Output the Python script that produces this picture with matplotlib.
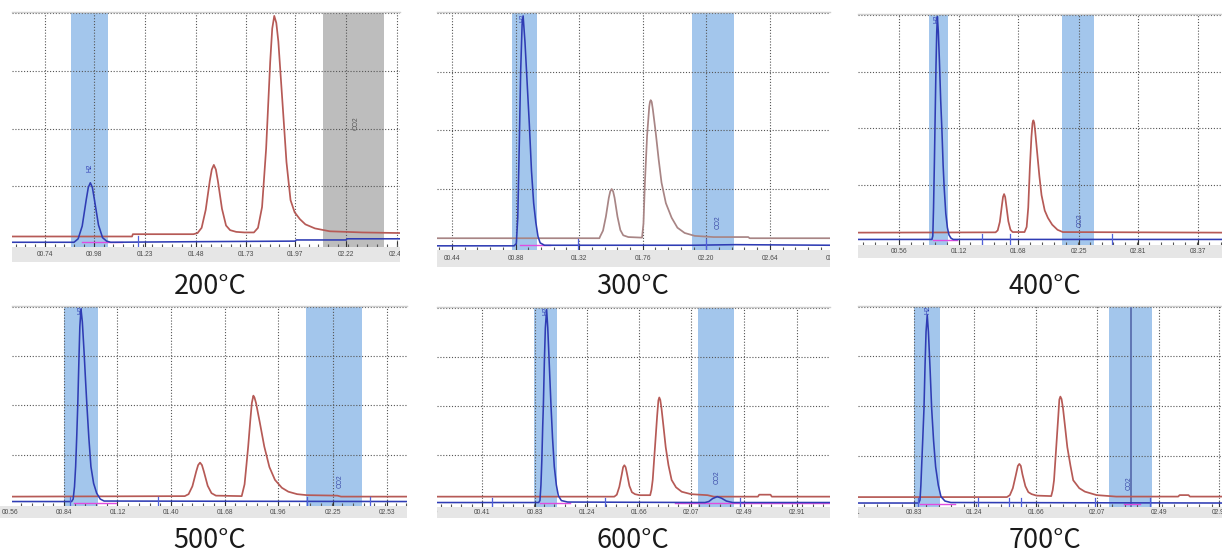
import matplotlib
matplotlib.use("Agg")
import matplotlib.pyplot as plt
from matplotlib.ticker import FixedLocator, AutoMinorLocator

W, H = 1222, 553

# ---------------- data ----------------
titles = ["200°C", "300°C", "400°C", "500°C", "600°C", "700°C"]

tick_vals = [
    [0.74, 0.98, 1.23, 1.48, 1.73, 1.97, 2.22, 2.47],
    [0.44, 0.88, 1.32, 1.76, 2.20, 2.64, 3.08],
    [0.56, 1.12, 1.68, 2.25, 2.81, 3.37],
    [0.56, 0.84, 1.12, 1.40, 1.68, 1.96, 2.25, 2.53],
    [0.00, 0.41, 0.83, 1.24, 1.66, 2.07, 2.49, 2.91],
    [0.41, 0.83, 1.24, 1.66, 2.07, 2.49, 2.90],
]
tick_labels = [
    ["00.74", "00.98", "01.23", "01.48", "01.73", "01.97", "02.22", "02.47"],
    ["00.44", "00.88", "01.32", "01.76", "02.20", "02.64", "03.08"],
    ["00.56", "01.12", "01.68", "02.25", "02.81", "03.37"],
    ["00.56", "00.84", "01.12", "01.40", "01.68", "01.96", "02.25", "02.53"],
    ["00.00", "00.41", "00.83", "01.24", "01.66", "02.07", "02.49", "02.91"],
    ["00.41", "00.83", "01.24", "01.66", "02.07", "02.49", "02.90"],
]
x_ranges = [(0.578, 2.485), (0.336, 3.056), (0.175, 3.596),
            (0.568, 2.635), (0.053, 3.172), (0.451, 2.917)]

# red (TCD) traces: (minutes, signal)
red_200 = [(0.578, 0.13), (1.168, 0.13), (1.172, 0.17), (1.47, 0.17), (1.49, 0.19),
           (1.51, 0.28), (1.53, 0.59), (1.55, 1.09), (1.56, 1.29), (1.57, 1.37),
           (1.58, 1.29), (1.59, 1.09),
           (1.61, 0.61), (1.63, 0.32), (1.65, 0.24), (1.68, 0.21), (1.72, 0.20),
           (1.767, 0.20), (1.787, 0.28), (1.807, 0.64), (1.827, 1.65), (1.847, 3.15),
           (1.857, 3.73), (1.867, 3.95), (1.877, 3.83), (1.887, 3.51), (1.907, 2.47),
           (1.927, 1.42), (1.947, 0.76),
           (1.967, 0.55), (1.993, 0.43), (2.02, 0.34), (2.067, 0.27), (2.14, 0.22),
           (2.30, 0.20), (2.485, 0.19)]
red_300 = [(0.336, 0.15), (1.46, 0.15), (1.465, 0.18), (1.485, 0.28), (1.505, 0.52),
           (1.525, 0.84), (1.535, 0.95), (1.545, 0.99), (1.555, 0.95), (1.565, 0.84),
           (1.585, 0.52), (1.605, 0.29),
           (1.625, 0.20), (1.66, 0.17), (1.755, 0.16), (1.765, 0.40), (1.775, 1.10),
           (1.79, 1.90), (1.805, 2.40), (1.81, 2.48), (1.815, 2.51), (1.822, 2.48),
           (1.83, 2.35), (1.85, 1.95),
           (1.87, 1.50), (1.89, 1.10), (1.92, 0.75), (1.96, 0.50), (2.00, 0.33),
           (2.05, 0.24), (2.12, 0.19), (2.25, 0.17), (2.49, 0.17), (2.50, 0.15),
           (3.056, 0.15)]
red_400 = [(0.175, 0.16), (1.468, 0.165), (1.488, 0.20), (1.508, 0.35), (1.528, 0.65),
           (1.538, 0.79), (1.548, 0.84), (1.558, 0.79), (1.568, 0.65), (1.588, 0.36),
           (1.608, 0.21), (1.628, 0.17),
           (1.70, 0.17), (1.74, 0.17), (1.76, 0.26), (1.775, 0.60), (1.79, 1.30),
           (1.805, 1.85), (1.815, 2.09), (1.823, 2.14), (1.831, 2.10), (1.84, 1.95),
           (1.86, 1.55), (1.88, 1.15),
           (1.90, 0.82), (1.93, 0.55), (1.96, 0.42), (2.00, 0.30), (2.05, 0.21),
           (2.10, 0.17), (3.596, 0.16)]
red_500 = [(0.568, 0.15), (1.472, 0.16), (1.492, 0.20), (1.512, 0.36), (1.532, 0.66),
           (1.542, 0.79), (1.552, 0.84), (1.562, 0.79), (1.572, 0.66), (1.592, 0.37),
           (1.612, 0.22), (1.635, 0.17),
           (1.77, 0.16), (1.785, 0.40), (1.795, 0.80), (1.804, 1.17), (1.815, 1.70),
           (1.823, 2.05), (1.831, 2.20), (1.837, 2.16), (1.845, 2.05), (1.865, 1.65),
           (1.888, 1.17),
           (1.915, 0.75), (1.944, 0.49), (1.98, 0.33), (2.014, 0.25), (2.06, 0.20),
           (2.11, 0.18), (2.27, 0.17), (2.29, 0.15), (2.635, 0.15)]
red_600 = [(0.053, 0.16), (1.46, 0.16), (1.48, 0.20), (1.50, 0.36), (1.52, 0.62),
           (1.53, 0.76), (1.54, 0.80), (1.55, 0.76), (1.56, 0.64), (1.58, 0.38),
           (1.60, 0.25), (1.625, 0.21),
           (1.66, 0.19), (1.745, 0.19), (1.755, 0.30), (1.765, 0.50), (1.783, 1.17),
           (1.80, 1.80), (1.81, 2.12), (1.817, 2.18), (1.825, 2.13), (1.835, 1.95),
           (1.85, 1.60), (1.868, 1.17),
           (1.89, 0.80), (1.915, 0.50), (1.95, 0.35), (1.995, 0.26), (2.07, 0.21),
           (2.20, 0.19), (2.25, 0.16), (2.60, 0.16), (2.61, 0.20), (2.70, 0.20),
           (2.71, 0.16), (3.172, 0.16)]
red_700 = [(0.451, 0.16), (1.46, 0.16), (1.48, 0.20), (1.50, 0.34), (1.52, 0.60),
           (1.534, 0.79), (1.544, 0.83), (1.554, 0.79), (1.565, 0.62), (1.585, 0.38),
           (1.605, 0.26), (1.627, 0.22),
           (1.66, 0.19), (1.76, 0.18), (1.77, 0.30), (1.779, 0.50), (1.794, 1.17),
           (1.808, 1.80), (1.815, 2.13), (1.822, 2.19), (1.83, 2.14), (1.84, 1.95),
           (1.855, 1.55), (1.869, 1.17),
           (1.89, 0.80), (1.909, 0.50), (1.95, 0.34), (1.988, 0.27), (2.068, 0.20),
           (2.20, 0.17), (2.62, 0.17), (2.63, 0.20), (2.69, 0.20), (2.70, 0.17),
           (2.917, 0.17)]

# blue (H2 channel) traces
blue_200 = [(0.578, 0.03), (0.883, 0.03), (0.903, 0.09), (0.923, 0.31), (0.943, 0.77),
            (0.953, 0.98), (0.963, 1.06), (0.973, 0.98), (0.983, 0.77), (1.003, 0.33),
            (1.023, 0.11), (1.043, 0.05),
            (1.063, 0.03), (1.48, 0.04), (1.97, 0.05), (1.975, 0.07), (2.22, 0.07),
            (2.225, 0.09), (2.485, 0.09)]
blue_300 = [(0.336, 0.02), (0.87, 0.02), (0.885, 0.06), (0.895, 0.50), (0.905, 1.70),
            (0.915, 3.00), (0.925, 3.80), (0.932, 3.95), (0.945, 3.50), (0.96, 2.80),
            (0.975, 2.10), (0.99, 1.30), (1.005, 0.75), (1.02, 0.42), (1.035, 0.18),
            (1.05, 0.07), (1.08, 0.03), (2.10, 0.03), (2.40, 0.04), (3.056, 0.03)]
blue_400 = [(0.175, 0.04), (0.87, 0.04), (0.878, 0.10), (0.885, 0.60), (0.893, 1.40),
            (0.90, 2.20), (0.908, 3.10), (0.915, 3.70), (0.921, 3.97), (0.93, 3.70),
            (0.94, 3.20), (0.952, 2.50), (0.964, 1.95), (0.975, 1.35), (0.985, 0.95),
            (1.00, 0.50), (1.015, 0.25), (1.03, 0.12), (1.05, 0.06), (1.07, 0.04),
            (3.596, 0.04)]
blue_500 = [(0.568, 0.05), (0.88, 0.05), (0.888, 0.10), (0.895, 0.35), (0.901, 0.76),
            (0.907, 1.40), (0.912, 2.00), (0.918, 2.90), (0.923, 3.60), (0.929, 3.96),
            (0.936, 3.70), (0.945, 3.10), (0.953, 2.50), (0.96, 2.00), (0.97, 1.35),
            (0.981, 0.76), (0.995, 0.42), (1.011, 0.22), (1.03, 0.10), (1.05, 0.06),
            (2.635, 0.05)]
blue_600 = [(0.053, 0.04), (0.86, 0.04), (0.87, 0.08), (0.878, 0.40), (0.885, 0.90),
            (0.892, 1.60), (0.897, 2.00), (0.905, 2.90), (0.913, 3.60), (0.923, 3.97),
            (0.932, 3.60), (0.945, 2.80), (0.958, 2.00), (0.97, 1.35), (0.984, 0.77),
            (1.00, 0.40), (1.016, 0.18), (1.04, 0.08), (1.09, 0.05), (2.18, 0.04),
            (2.21, 0.06), (2.24, 0.12), (2.277, 0.16), (2.31, 0.13), (2.35, 0.07),
            (2.40, 0.04), (3.172, 0.04)]
blue_700 = [(0.451, 0.04), (0.862, 0.04), (0.871, 0.10), (0.877, 0.40), (0.882, 0.77),
            (0.89, 1.35), (0.898, 1.95), (0.905, 2.80), (0.912, 3.50), (0.92, 3.84),
            (0.928, 3.50), (0.94, 2.70), (0.95, 1.95), (0.963, 1.30), (0.977, 0.77),
            (0.995, 0.40), (1.013, 0.17), (1.04, 0.08), (1.08, 0.05), (2.917, 0.04)]

red_traces = [red_200, red_300, red_400, red_500, red_600, red_700]
blue_traces = [blue_200, blue_300, blue_400, blue_500, blue_600, blue_700]

# shaded integration windows (start, end) in minutes
h2_windows = [(0.868, 1.05), (0.855, 1.028), (0.842, 1.02),
              (0.84, 1.018), (0.823, 1.005), (0.83, 1.006)]
co2_windows = [(2.106, 2.406), (2.101, 2.392), (2.092, 2.393),
               (2.106, 2.399), (2.124, 2.41), (2.151, 2.442)]
co2_window_grey = [True, False, False, False, False, False]
co2_lines = [[], [], [], [], [], [2.30]]

# magenta integration baselines (start, end)
magenta_segs = [[(0.92, 1.12)], [(0.91, 1.12)], [(0.88, 1.105)],
                [(0.89, 1.11)], [(0.87, 1.11), (1.94, 3.172)],
                [(0.87, 1.11), (2.25, 2.36)]]
# small event markers on the blue baseline
markers = [[1.195], [1.31, 2.20], [1.34, 1.603, 2.56],
           [0.87, 1.332, 2.11, 2.44], [0.49, 1.39, 2.457],
           [0.857, 1.264, 1.474, 1.555, 2.056, 2.43]]

# peak name labels (x, y)
h2_label_pos = [(0.963, 1.25), (0.93, 3.85), (0.921, 3.85),
                (0.929, 3.85), (0.918, 3.85), (0.922, 3.85)]
co2_label_pos = [(2.27, 1.97), (2.28, 0.30), (2.26, 0.26),
                 (2.284, 0.33), (2.277, 0.42), (2.29, 0.30)]

# ---------------- layout (pixels) ----------------
# strip left, right, pixel of y=0, pixels per unit, bottom of tick strip
layout = [
    (12, 400, 244.0, 57.75, 262),
    (437, 830, 247.0, 58.5, 267),
    (858, 1222, 241.7, 56.7, 258),
    (0, 407, 504.0, 49.25, 518),
    (437, 830, 504.5, 49.1, 518),
    (858, 1222, 505.0, 49.5, 518),
]
plot_left = [12, 437, 858, 12, 437, 858]
title_pos = [(210, 287), (633, 287), (1045, 287), (210, 540), (633, 540), (1045, 540)]

YMIN, YMAX = -0.05, 4.02
red_colors = ["#b65a56", "#a88585", "#b65a56", "#b65a56", "#b65a56", "#b65a56"]
blue_color = "#2f3cb4"
band_blue = "#a3c6ec"
band_grey = "#bdbdbd"

fig = plt.figure(figsize=(W / 100, H / 100), dpi=100)
fig.patch.set_facecolor("white")


def box(l, t, r, b):
    return [l / W, 1 - b / H, (r - l) / W, (b - t) / H]


for i in range(6):
    sl, r, y0, ppu, sb = layout[i]
    l = plot_left[i]
    top = y0 - YMAX * ppu
    bot = y0 - YMIN * ppu
    ax = fig.add_axes(box(l, top, r, bot))
    ax.set_xlim(*x_ranges[i])
    ax.set_ylim(YMIN, YMAX)
    ax.set_facecolor("white")
    for s in ("left", "right", "bottom"):
        ax.spines[s].set_visible(False)
    ax.spines["top"].set_color("#cfcfcf")
    ax.spines["top"].set_linewidth(1.0)

    ax.xaxis.set_major_locator(FixedLocator(tick_vals[i]))
    ax.xaxis.set_minor_locator(AutoMinorLocator(5))
    ax.set_yticks([1, 2, 3, 4])
    ax.tick_params(axis="x", which="major", direction="in", length=4,
                   color="#333333", width=0.8, labelbottom=False)
    ax.tick_params(axis="x", which="minor", direction="in", length=2,
                   color="#555555", width=0.8)
    ax.tick_params(axis="y", left=False, labelleft=False)
    ax.grid(True, which="major", color="#555555", linestyle=(0, (1, 1.6)),
            linewidth=0.8)
    ax.set_axisbelow(True)

    # shaded windows
    hs, he = h2_windows[i]
    ax.axvspan(hs, he, color=band_blue, lw=0, zorder=0.5)
    cs, ce = co2_windows[i]
    ax.axvspan(cs, ce, color=band_grey if co2_window_grey[i] else band_blue,
               lw=0, zorder=0.5)
    for xv in co2_lines[i]:
        ax.axvline(xv, color="#5a6fb0", lw=1.3, zorder=1)

    # traces
    rx, ry = zip(*red_traces[i])
    ax.plot(rx, ry, color=red_colors[i], lw=1.25, zorder=3,
            solid_joinstyle="round")
    bx, by = zip(*blue_traces[i])
    ax.plot(bx, by, color=blue_color, lw=1.15, zorder=4, solid_joinstyle="round")
    for s0, s1 in magenta_segs[i]:
        ax.plot([s0, s1], [0.03, 0.03], color="#e04ce0", lw=1.0, zorder=3.5)
    for m in markers[i]:
        ax.plot([m, m], [-0.05, 0.14], color="#5060d8", lw=0.9, zorder=4)

    hx, hy = h2_label_pos[i]
    ax.text(hx, hy, "H2", rotation=90, fontsize=4.8, color=blue_color,
            ha="center", va="bottom", family="Liberation Sans", zorder=5, clip_on=True)
    cx, cy = co2_label_pos[i]
    ax.text(cx, cy, "CO2", rotation=90, fontsize=4.8,
            color="#555555" if co2_window_grey[i] else "#3a4aa8",
            ha="center", va="bottom", family="Liberation Sans", zorder=5, clip_on=True)

    # tick label strip (same data->pixel mapping as the plot axes)
    sax = fig.add_axes(box(sl, bot, r, sb))
    x0, x1 = x_ranges[i]
    ppm = (r - l) / (x1 - x0)
    sax.set_xlim(x0 - (l - sl) / ppm, x1)
    sax.set_ylim(0, 1)
    sax.set_facecolor("#e6e6e6")
    for s in sax.spines.values():
        s.set_visible(False)
    sax.set_xticks([])
    sax.set_yticks([])
    for tv, tl in zip(tick_vals[i], tick_labels[i]):
        sax.text(tv, 0.5, tl, ha="center", va="center", fontsize=4.8,
                 color="#4a4a4a", family="Liberation Sans", clip_on=True)

    tx, ty = title_pos[i]
    fig.text(tx / W, 1 - ty / H, titles[i], ha="center", va="center",
             fontsize=19.5, color="#1a1a1a", family=["Noto Sans CJK KR", "DejaVu Sans"])

fig.savefig("out.png", dpi=100, facecolor="white")
